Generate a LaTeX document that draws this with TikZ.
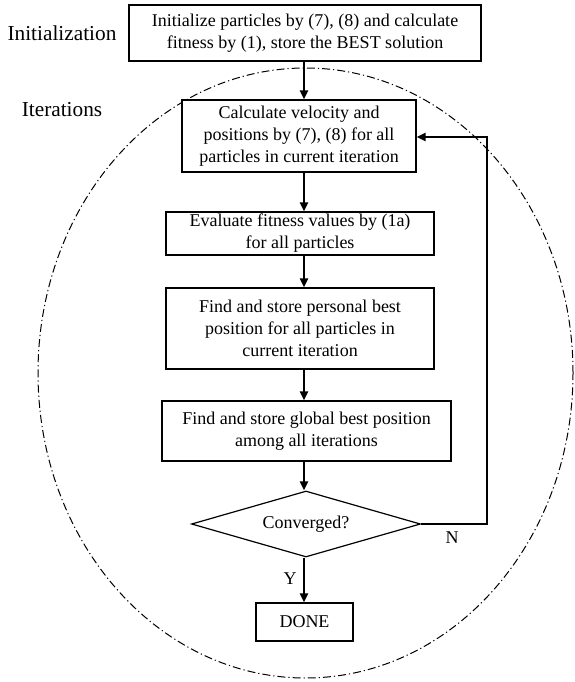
\documentclass[tikz,border=0pt]{standalone}
\usepackage{fontspec}
\setmainfont{Liberation Serif}
\usetikzlibrary{arrows.meta,shapes.geometric}
\begin{document}
\begin{tikzpicture}[x=1pt,y=-1pt,
  box/.style={draw,line width=1.2pt,inner sep=0pt,align=center,font=\fontsize{18}{22}\selectfont},
  lbl/.style={inner sep=0pt,font=\fontsize{21.3}{24}\selectfont},
  small/.style={inner sep=0pt,font=\fontsize{18}{22}\selectfont},
  arr/.style={line width=2pt,-{Triangle[length=9pt,width=8pt]}},
  dashdotline/.style={line width=1pt,dash pattern=on 8pt off 3pt on 1.2pt off 3pt}]
\useasboundingbox (0,0) rectangle (574,682);
\draw[dashdotline] (305.5,373) ellipse [x radius=267.5pt, y radius=305pt];
\node[lbl] (tinit) at (62,33) {Initialization};
\node[lbl] (titer) at (62,110) {Iterations};
\node[box,fill=white,minimum width=352pt,minimum height=56pt] (init) at (305,33)
  {Initialize particles by (7), (8) and calculate\\fitness by (1), store the BEST solution};
\node[box,fill=white,minimum width=234pt,minimum height=72pt] (calc) at (299,136)
  {Calculate velocity and\\positions by (7), (8) for all\\particles in current iteration};
\node[box,minimum width=268pt,minimum height=43pt] (eval) at (300,233.5)
  {Evaluate fitness values by (1a)\\for all particles};
\node[box,minimum width=268pt,minimum height=81pt] (pbest) at (300,328.5)
  {Find and store personal best\\position for all particles in\\current iteration};
\node[box,minimum width=289pt,minimum height=60pt] (gbest) at (306.5,431)
  {Find and store global best position\\among all iterations};
\node[box,diamond,aspect=3.47,minimum width=229pt,minimum height=66pt] (conv) at (306,524) {Converged?};
\node[box,minimum width=97pt,minimum height=38pt] (done) at (304.5,622) {DONE};
\node[small] (tn) at (452,538) {N};
\node[small] (ty) at (290,579) {Y};
\coordinate (spine) at (304,0);
\coordinate (fb) at (487,137);
\draw[arr] (init.south -| spine) -- (calc.north -| spine);
\draw[arr] (calc.south -| spine) -- (eval.north -| spine);
\draw[arr] (eval.south -| spine) -- (pbest.north -| spine);
\draw[arr] (pbest.south -| spine) -- (gbest.north -| spine);
\draw[arr] (gbest.south -| spine) -- (conv.north -| spine);
\draw[arr] (conv.south -| spine) -- (done.north -| spine);
\draw[arr] (conv.east) -| (fb) -- (calc.east |- fb);
\end{tikzpicture}
\end{document}
